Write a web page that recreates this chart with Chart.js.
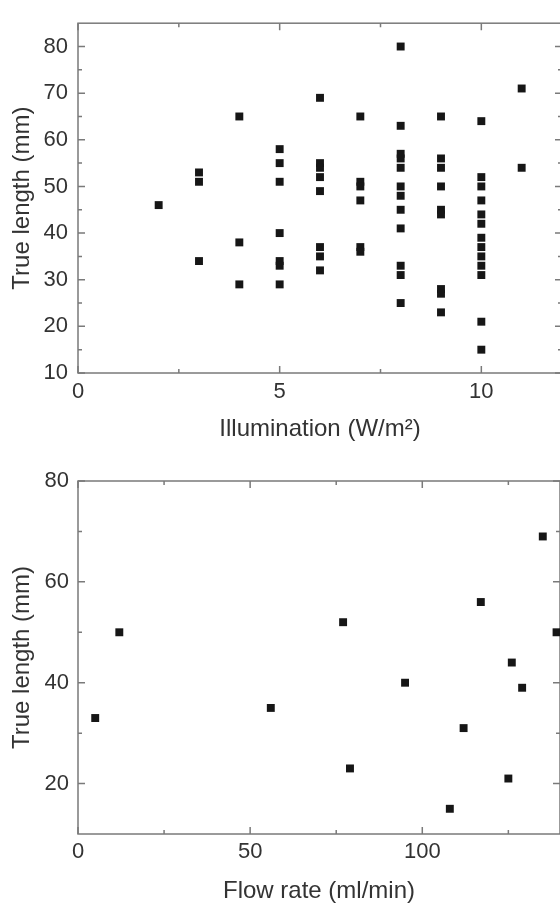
<!DOCTYPE html>
<html>
<head>
<meta charset="utf-8">
<script src="https://cdn.jsdelivr.net/npm/chart.js@4.4.1/dist/chart.umd.min.js"></script>
<style>
  html, body { margin: 0; padding: 0; background: #fff; overflow: hidden; }
  .wrap { width: 560px; overflow: hidden; }
  canvas { display: block; }
</style>
</head>
<body>
<div class="wrap"><canvas id="illumChart" width="563" height="450"></canvas></div>
<div class="wrap"><canvas id="flowChart" width="560" height="453"></canvas></div>
<script>
// top panel: true length against illumination, one list of lengths per level
const illumLevels = [2, 3, 4, 5, 6, 7, 8, 9, 10, 11];
const lengthsAtLevel = [
  [46],
  [53, 51, 34],
  [65, 38, 29],
  [58, 55, 51, 40, 34, 33, 29],
  [69, 55, 54, 52, 49, 37, 35, 32],
  [65, 51, 50, 47, 37, 36],
  [80, 63, 57, 56, 54, 50, 48, 45, 41, 33, 31, 25],
  [65, 56, 54, 50, 45, 44, 28, 27, 23],
  [64, 52, 50, 47, 44, 42, 39, 37, 35, 33, 31, 21, 15],
  [71, 54]
];
const illumTicks = [0, 5, 10];
const illumMinor = [2.5, 7.5];
const lengthTicksA = [10, 20, 30, 40, 50, 60, 70, 80];
const lengthMinorA = [15, 25, 35, 45, 55, 65, 75];

// bottom panel: true length against flow rate
const flowRate = [5, 12, 56, 77, 79, 95, 108, 112, 117, 125, 126, 129, 135, 139];
const lengthByFlow = [33, 50, 35, 52, 23, 40, 15, 31, 56, 21, 44, 39, 69, 50];
const flowTicks = [0, 50, 100];
const flowMinor = [25, 75, 125];
const lengthTicksB = [20, 40, 60, 80];
const lengthMinorB = [30, 50, 70];

const family = "'Liberation Sans', Arial, Helvetica, sans-serif";
const textColor = '#333';

// box around the plot with inward ticks on all four sides
const frameTicks = {
  id: 'frameTicks',
  beforeDatasetsDraw(chart, args, o) {
    const { ctx, chartArea: a, scales: { x, y } } = chart;
    ctx.save();
    ctx.strokeStyle = '#7a7a7a';
    ctx.lineWidth = 1.5;
    ctx.strokeRect(a.left, a.top, a.right - a.left, a.bottom - a.top);
    ctx.beginPath();
    const xMarks = (vals, len) => vals.forEach(v => {
      const p = x.getPixelForValue(v);
      ctx.moveTo(p, a.bottom); ctx.lineTo(p, a.bottom - len);
      ctx.moveTo(p, a.top); ctx.lineTo(p, a.top + len);
    });
    const yMarks = (vals, len) => vals.forEach(v => {
      const p = y.getPixelForValue(v);
      ctx.moveTo(a.left, p); ctx.lineTo(a.left + len, p);
      ctx.moveTo(a.right, p); ctx.lineTo(a.right - len, p);
    });
    xMarks(o.xMajor, 7); xMarks(o.xMinor, 4);
    yMarks(o.yMajor, 7); yMarks(o.yMinor, 4);
    ctx.stroke();
    ctx.restore();
  }
};

function makeChart(id, points, s) {
  return new Chart(document.getElementById(id), {
    type: 'scatter',
    data: {
      datasets: [{
        data: points,
        pointStyle: 'rect',
        pointRadius: 5.6,
        pointHoverRadius: 5.6,
        backgroundColor: '#161616',
        borderWidth: 0,
        clip: false
      }]
    },
    options: {
      responsive: false,
      animation: false,
      events: [],
      layout: { autoPadding: false, padding: { top: s.padTop, right: s.padRight, bottom: 0, left: 0 } },
      plugins: {
        legend: { display: false },
        tooltip: { enabled: false },
        frameTicks: { xMajor: s.xTicks, xMinor: s.xMinor, yMajor: s.yTicks, yMinor: s.yMinor }
      },
      scales: {
        x: {
          type: 'linear',
          min: s.xMin, max: s.xMax,
          grid: { display: false, drawTicks: false },
          border: { display: false },
          afterBuildTicks: sc => { sc.ticks = s.xTicks.map(v => ({ value: v })); },
          afterFit: sc => { sc.height = s.xHeight; },
          ticks: { padding: s.xPad, maxRotation: 0, autoSkip: false, color: textColor, font: { family, size: 22 } },
          title: {
            display: true, text: s.xTitle, color: textColor,
            font: { family, size: 24, lineHeight: 1 },
            padding: { top: 0, bottom: s.xTitlePad }
          }
        },
        y: {
          type: 'linear',
          min: s.yMin, max: s.yMax,
          grid: { display: false, drawTicks: false },
          border: { display: false },
          afterBuildTicks: sc => { sc.ticks = s.yTicks.map(v => ({ value: v })); },
          afterFit: sc => { sc.width = 78; },
          ticks: { padding: s.yPad, autoSkip: false, color: textColor, font: { family, size: 22 } },
          title: {
            display: true, text: 'True length (mm)', color: textColor,
            font: { family, size: 24, lineHeight: 1 },
            padding: { top: 10, bottom: 0 }
          }
        }
      }
    },
    plugins: [frameTicks]
  });
}

const illumPoints = [];
illumLevels.forEach((lvl, i) => lengthsAtLevel[i].forEach(len => illumPoints.push({ x: lvl, y: len })));

makeChart('illumChart', illumPoints, {
  xMin: 0, xMax: 12, yMin: 10, yMax: 85,
  xTicks: illumTicks, xMinor: illumMinor, yTicks: lengthTicksA, yMinor: lengthMinorA,
  xTitle: 'Illumination (W/m²)',
  padTop: 16, padRight: 1, xHeight: 77, xPad: 6, xTitlePad: 9, yPad: 10
});

makeChart('flowChart', flowRate.map((f, i) => ({ x: f, y: lengthByFlow[i] })), {
  xMin: 0, xMax: 140, yMin: 10, yMax: 80,
  xTicks: flowTicks, xMinor: flowMinor, yTicks: lengthTicksB, yMinor: lengthMinorB,
  xTitle: 'Flow rate (ml/min)',
  padTop: 31, padRight: 0, xHeight: 69, xPad: 5, xTitlePad: 0, yPad: 9
});
</script>
</body>
</html>
